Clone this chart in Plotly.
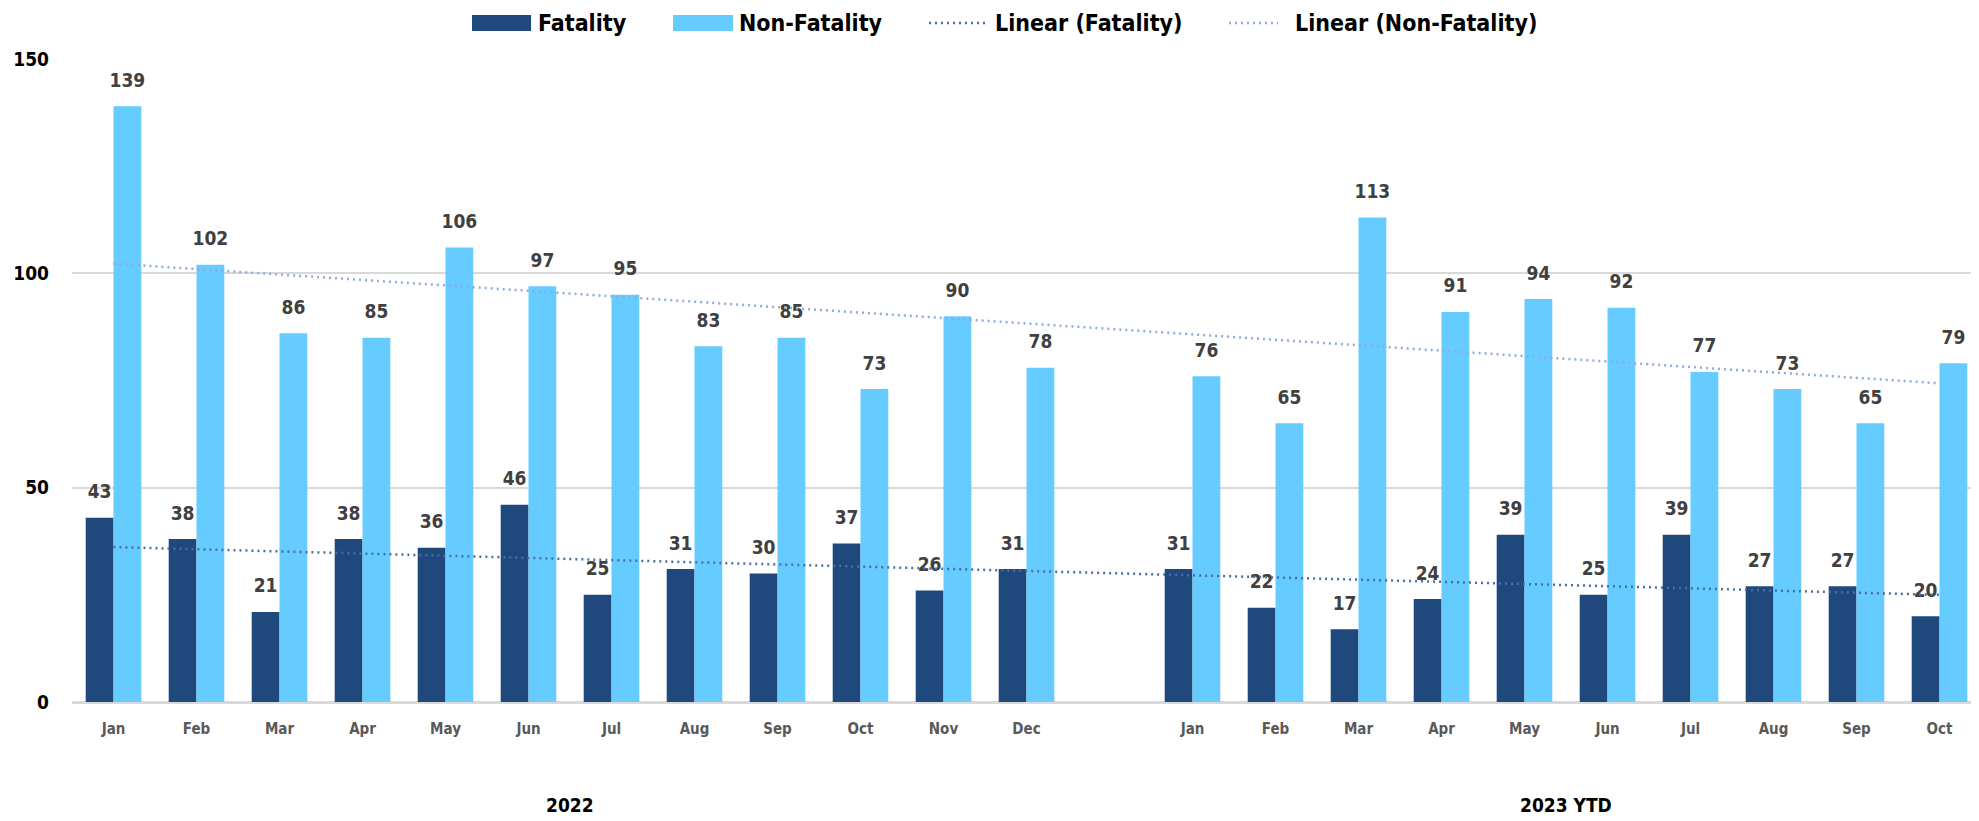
import numpy as np
import plotly.graph_objects as go

months_2022 = ['Jan', 'Feb', 'Mar', 'Apr', 'May', 'Jun', 'Jul', 'Aug', 'Sep', 'Oct', 'Nov', 'Dec']
months_2023 = ['Jan', 'Feb', 'Mar', 'Apr', 'May', 'Jun', 'Jul', 'Aug', 'Sep', 'Oct']
fatality_2022 = [43, 38, 21, 38, 36, 46, 25, 31, 30, 37, 26, 31]
fatality_2023 = [31, 22, 17, 24, 39, 25, 39, 27, 27, 20]
nonfatal_2022 = [139, 102, 86, 85, 106, 97, 95, 83, 85, 73, 90, 78]
nonfatal_2023 = [76, 65, 113, 91, 94, 92, 77, 73, 65, 79]
year_labels = ['2022', '2023 YTD']
legend_names = ['Fatality', 'Non-Fatality', 'Linear (Fatality)', 'Linear (Non-Fatality)']

FONT = 'DejaVu Sans Condensed, Liberation Sans Narrow, Open Sans, sans-serif'
DARK = '#1F497D'
LIGHT = '#66CCFF'
TREND_DARK = '#4A6FA5'
TREND_LIGHT = '#8FAADC'
BARGAP = 0.33

# figure margins (px); the page adds an 8px body offset
L, R, T, B = 64, 6, 51, 127
W, H = 1979, 821
PW, PH = W - L - R, H - T - B


def px_x(x):
    return (x - 8 - L) / PW


def px_y(y):
    return (H - B - (y - 8)) / PH


# one empty category slot between the two years
x_2022 = list(range(len(months_2022)))
x_2023 = [len(months_2022) + 1 + i for i in range(len(months_2023))]
xs = x_2022 + x_2023
labels = months_2022 + months_2023
fatality = fatality_2022 + fatality_2023
nonfatal = nonfatal_2022 + nonfatal_2023

fig = go.Figure()

half = (1 - BARGAP) / 4  # centre offset of each bar inside its group
for vals, name, col, off in [(fatality, legend_names[0], DARK, -half),
                             (nonfatal, legend_names[1], LIGHT, half)]:
    fig.add_trace(go.Bar(
        x=xs, y=vals, name=name, marker=dict(color=col, line=dict(width=0)),
    ))
    # value labels, lifted a bit above the bar ends like Excel's "outside end"
    fig.add_trace(go.Scatter(
        x=[x + off for x in xs], y=vals, mode='markers+text', text=vals,
        textposition='top center', cliponaxis=False, hoverinfo='skip', showlegend=False,
        marker=dict(size=22, opacity=0),
        textfont=dict(family=FONT, size=19, color='#404040', weight='bold'),
    ))

# linear trendlines over category index (Excel style)
idx = np.arange(len(months_2022) + 1 + len(months_2023))
fit_x = np.array(xs)
for vals, name, col in [(fatality, legend_names[2], TREND_DARK),
                        (nonfatal, legend_names[3], TREND_LIGHT)]:
    m, b = np.polyfit(fit_x, vals, 1)
    tx = [idx[0], idx[-1]]
    fig.add_trace(go.Scatter(
        x=tx, y=[m * t + b for t in tx], mode='lines', name=name,
        line=dict(color=col, width=2.5, dash='2px,4px'), hoverinfo='skip',
    ))

for i, yl in enumerate(year_labels):
    xg = x_2022 if i == 0 else x_2023
    fig.add_annotation(
        x=(xg[0] + xg[-1]) / 2, y=px_y(805), xref='x', yref='paper', text=f'<b>{yl}</b>',
        showarrow=False, font=dict(family=FONT, size=19, color='#000000'), yanchor='middle',
    )

# hand-drawn legend (wide swatches like the original)
ly = 23
swatches = [(472, 531, 'rect', DARK), (673, 733, 'rect', LIGHT),
            (929, 987, 'line', TREND_DARK), (1229, 1278, 'line', TREND_LIGHT)]
text_x = [537, 738, 994, 1294]
for (x0, x1, kind, col), tx, name in zip(swatches, text_x, legend_names):
    if kind == 'rect':
        fig.add_shape(type='rect', xref='paper', yref='paper',
                      x0=px_x(x0), x1=px_x(x1), y0=px_y(ly - 8), y1=px_y(ly + 8),
                      fillcolor=col, line=dict(width=0))
    else:
        fig.add_shape(type='line', xref='paper', yref='paper',
                      x0=px_x(x0), x1=px_x(x1), y0=px_y(ly), y1=px_y(ly),
                      line=dict(color=col, width=2.5, dash='2px,4px'))
    fig.add_annotation(x=px_x(tx), y=px_y(ly), xref='paper', yref='paper',
                       text=f'<b>{name}</b>', showarrow=False, xanchor='left', yanchor='middle',
                       borderpad=0, font=dict(family=FONT, size=23, color='#000000'))

fig.update_layout(
    width=W, height=H,
    barmode='group', bargap=BARGAP, bargroupgap=0,
    plot_bgcolor='white', paper_bgcolor='white',
    margin=dict(l=L, r=R, t=T, b=B, autoexpand=False),
    showlegend=False,
    xaxis=dict(tickvals=xs, ticktext=[f'<b>{t}</b>' for t in labels],
               range=[-0.5, idx[-1] + 0.5], showgrid=False, ticks='',
               tickfont=dict(family=FONT, size=15, color='#595959'),
               showline=False, zeroline=False, ticklabelstandoff=16),
    yaxis=dict(range=[0, 150], tickvals=[0, 50, 100, 150],
               ticktext=['<b>0</b>', '<b>50</b>', '<b>100</b>', '<b>150</b>'],
               showgrid=True, gridcolor='#D9D9D9', gridwidth=2,
               zeroline=True, zerolinecolor='#D9D9D9', zerolinewidth=3,
               tickfont=dict(family=FONT, size=19, color='#000000'), ticklabelstandoff=22),
)

fig.write_html('out.html')
